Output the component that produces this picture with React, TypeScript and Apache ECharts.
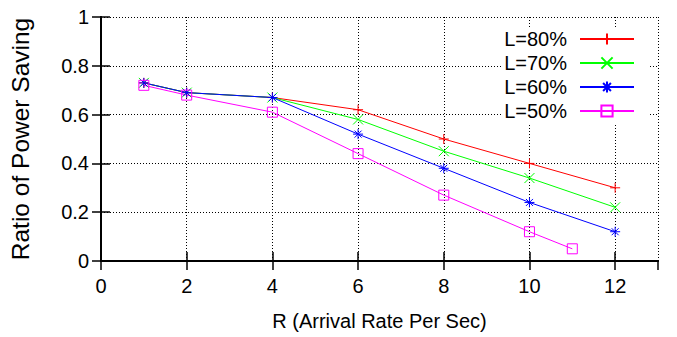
import React, { useEffect, useRef } from "react";
import * as echarts from "echarts";

const xMain = [1, 2, 4, 6, 8, 10, 12];
const xL50 = [1, 2, 4, 6, 8, 10, 11];
const yL80 = [0.73, 0.69, 0.67, 0.62, 0.5, 0.4, 0.3];
const yL70 = [0.73, 0.69, 0.67, 0.58, 0.45, 0.34, 0.22];
const yL60 = [0.73, 0.69, 0.67, 0.52, 0.38, 0.24, 0.12];
const yL50 = [0.72, 0.68, 0.61, 0.44, 0.27, 0.12, 0.05];
const seriesNames = ["L=80%", "L=70%", "L=60%", "L=50%"];
const xTitle = "R (Arrival Rate Per Sec)";
const yTitle = "Ratio of Power Saving";

const FONT = "'Liberation Sans', Arial, sans-serif";

const SYM_PLUS = "path://M0,5L10,5M5,0L5,10";
const SYM_X = "path://M0,0L10,10M0,10L10,0";
const SYM_STAR = "path://M0,5L10,5M5,0L5,10M1.5,1.5L8.5,8.5M1.5,8.5L8.5,1.5";
const SYM_SQUARE = "path://M0,0L10,0L10,10L0,10Z";

function pairs(xs: number[], ys: number[]) {
  return xs.map((x, i) => [x, ys[i]]);
}

export default function App() {
  const ref = useRef<HTMLDivElement>(null);
  useEffect(() => {
    document.body.style.margin = "0";
    if (!ref.current) return;
    const chart = echarts.init(ref.current, null, { renderer: "svg", width: 677, height: 337 });
    const mk = (name: string, data: number[][], color: string, symbol: string) => ({
      name,
      type: "line",
      data,
      symbol,
      symbolSize: 10,
      showSymbol: true,
      lineStyle: { color, width: 1 },
      itemStyle: { color: "transparent", borderColor: color, borderWidth: 1 },
      emphasis: { disabled: true },
      xAxisIndex: 0,
      yAxisIndex: 0,
    });
    const boxAxis = {
      axisLine: { show: true, lineStyle: { color: "#000", width: 2 } },
      axisTick: { show: true, inside: true, length: 9, lineStyle: { color: "#000", width: 1.5 } },
    };
    chart.setOption({
      animation: false,
      grid: { left: 101, top: 17, right: 19, bottom: 76 },
      xAxis: [
        {
          type: "value",
          min: 0,
          max: 13,
          interval: 2,
          name: xTitle,
          nameLocation: "middle",
          nameGap: 50,
          nameTextStyle: { fontFamily: FONT, fontSize: 20, color: "#000" },
          ...boxAxis,
          axisLabel: {
            fontFamily: FONT,
            fontSize: 20,
            color: "#000",
            margin: 15,
            showMaxLabel: false,
          },
          splitLine: { show: true, lineStyle: { color: "#000", type: [1, 2], width: 1 } },
        },
        {
          type: "value",
          position: "top",
          min: 0,
          max: 13,
          interval: 2,
          ...boxAxis,
          axisLabel: { show: false },
          splitLine: { show: false },
        },
      ],
      yAxis: [
        {
          type: "value",
          min: 0,
          max: 1,
          interval: 0.2,
          name: yTitle,
          nameLocation: "middle",
          nameGap: 68,
          nameTextStyle: { fontFamily: FONT, fontSize: 24.5, color: "#000" },
          ...boxAxis,
          axisLabel: { fontFamily: FONT, fontSize: 20, color: "#000", margin: 12 },
          splitLine: { show: true, lineStyle: { color: "#000", type: [1, 2], width: 1 } },
        },
        {
          type: "value",
          position: "right",
          min: 0,
          max: 1,
          interval: 0.2,
          ...boxAxis,
          axisLabel: { show: false },
          splitLine: { show: false },
        },
      ],
      legend: {
        orient: "vertical",
        right: 29,
        top: 27,
        align: "right",
        padding: [0, 13, 0, 2],
        backgroundColor: "#fff",
        itemWidth: 54,
        itemHeight: 14,
        itemGap: 0,
        selectedMode: false,
        data: seriesNames,
        textStyle: {
          fontFamily: FONT,
          fontSize: 20,
          color: "#000",
          lineHeight: 24,
          padding: [0, 8, 0, 0],
        },
      },
      series: [
        mk(seriesNames[0], pairs(xMain, yL80), "#ff0000", SYM_PLUS),
        mk(seriesNames[1], pairs(xMain, yL70), "#00ff00", SYM_X),
        mk(seriesNames[2], pairs(xMain, yL60), "#0000ff", SYM_STAR),
        mk(seriesNames[3], pairs(xL50, yL50), "#ff00ff", SYM_SQUARE),
      ],
    });
    return () => chart.dispose();
  }, []);
  return (
    <div
      ref={ref}
      style={{ position: "absolute", left: 0, top: 0, width: 677, height: 337 }}
    />
  );
}
